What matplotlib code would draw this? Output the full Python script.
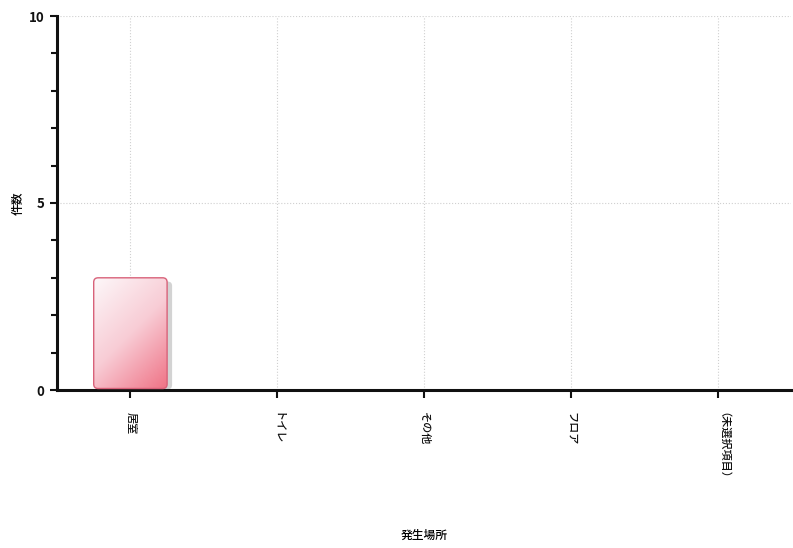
import matplotlib
matplotlib.use("Agg")
import matplotlib.pyplot as plt
import numpy as np
from matplotlib.patches import FancyBboxPatch
from matplotlib.colors import LinearSegmentedColormap
from matplotlib.ticker import MultipleLocator

categories = ["居室", "トイレ", "その他", "フロア", "（未選択項目）"]
values = [3, 0, 0, 0, 0]
yticks = [0, 5, 10]

plt.rcParams['font.family'] = ['Noto Sans CJK JP', 'DejaVu Sans']

fig = plt.figure(figsize=(7.93, 5.48), dpi=100)
ax = fig.add_axes([57/793, 158/548, 734/793, 374/548])

x = np.arange(len(categories))
bars = ax.bar(x, values, width=0.5, color='none', edgecolor='none', zorder=1)

ax.set_xlim(-0.5, len(categories) - 0.5)
ax.set_ylim(0, 10)

px_x = 734 / len(categories)
px_y = 374 / 10.0
aspect = px_x / px_y

cmap = LinearSegmentedColormap.from_list("pinkgrad", ["#fdf7f9", "#f8ccd5", "#ef7285"])
nx, ny = 64, 64
gx, gy = np.meshgrid(np.linspace(0, 1, nx), np.linspace(0, 1, ny))
grad = gx * 0.4 + (1 - gy) * 0.6

for b in bars:
    h = b.get_height()
    if h <= 0:
        continue
    bx, bw = b.get_x(), b.get_width()
    by = b.get_y() + 0.04
    hh = h - 0.04
    sh = FancyBboxPatch((bx + 5/px_x, by - 0.02), bw, hh - 0.08,
                        boxstyle="round,pad=0,rounding_size=0.03",
                        mutation_aspect=aspect, facecolor="#c8c8c8",
                        edgecolor="none", alpha=0.8, zorder=2)
    ax.add_patch(sh)
    patch = FancyBboxPatch((bx, by), bw, hh,
                           boxstyle="round,pad=0,rounding_size=0.03",
                           mutation_aspect=aspect, facecolor="none",
                           edgecolor="#d8627a", linewidth=1.0, zorder=4)
    ax.add_patch(patch)
    im = ax.imshow(grad, cmap=cmap, extent=(bx, bx + bw, by, by + hh),
                   origin='lower', aspect='auto', zorder=3, interpolation='bilinear')
    im.set_clip_path(patch)

ax.set_xticks(x)
ax.set_xticklabels(categories, rotation=-90, fontsize=8, fontweight='medium',
                   va='top', ha='center')
ax.set_yticks(yticks)
ax.set_yticklabels([str(t) for t in yticks], fontsize=9.5, fontweight='bold')
ax.yaxis.set_minor_locator(MultipleLocator(1))

ax.tick_params(axis='x', direction='out', length=6, width=1.5, pad=10, colors='#111111')
ax.tick_params(axis='y', which='major', direction='out', length=5, width=1.5, pad=4, colors='#111111')
ax.tick_params(axis='y', which='minor', direction='out', length=4, width=1.5, colors='#111111')

for s in ['top', 'right']:
    ax.spines[s].set_visible(False)
for s in ['left', 'bottom']:
    ax.spines[s].set_linewidth(2.2)
    ax.spines[s].set_color('#111111')

ax.grid(True, which='major', axis='both', color='#d0d0d0', linestyle=':', linewidth=0.8, zorder=0)
ax.set_axisbelow(True)

ax.set_xlabel("発生場所", fontsize=8.5, fontweight='medium', labelpad=28)
ax.set_ylabel("件数", fontsize=8.5, fontweight='medium')
ax.yaxis.set_label_coords(-(57 - 25) / 734, 0.5)

fig.savefig("out.png", dpi=100)
